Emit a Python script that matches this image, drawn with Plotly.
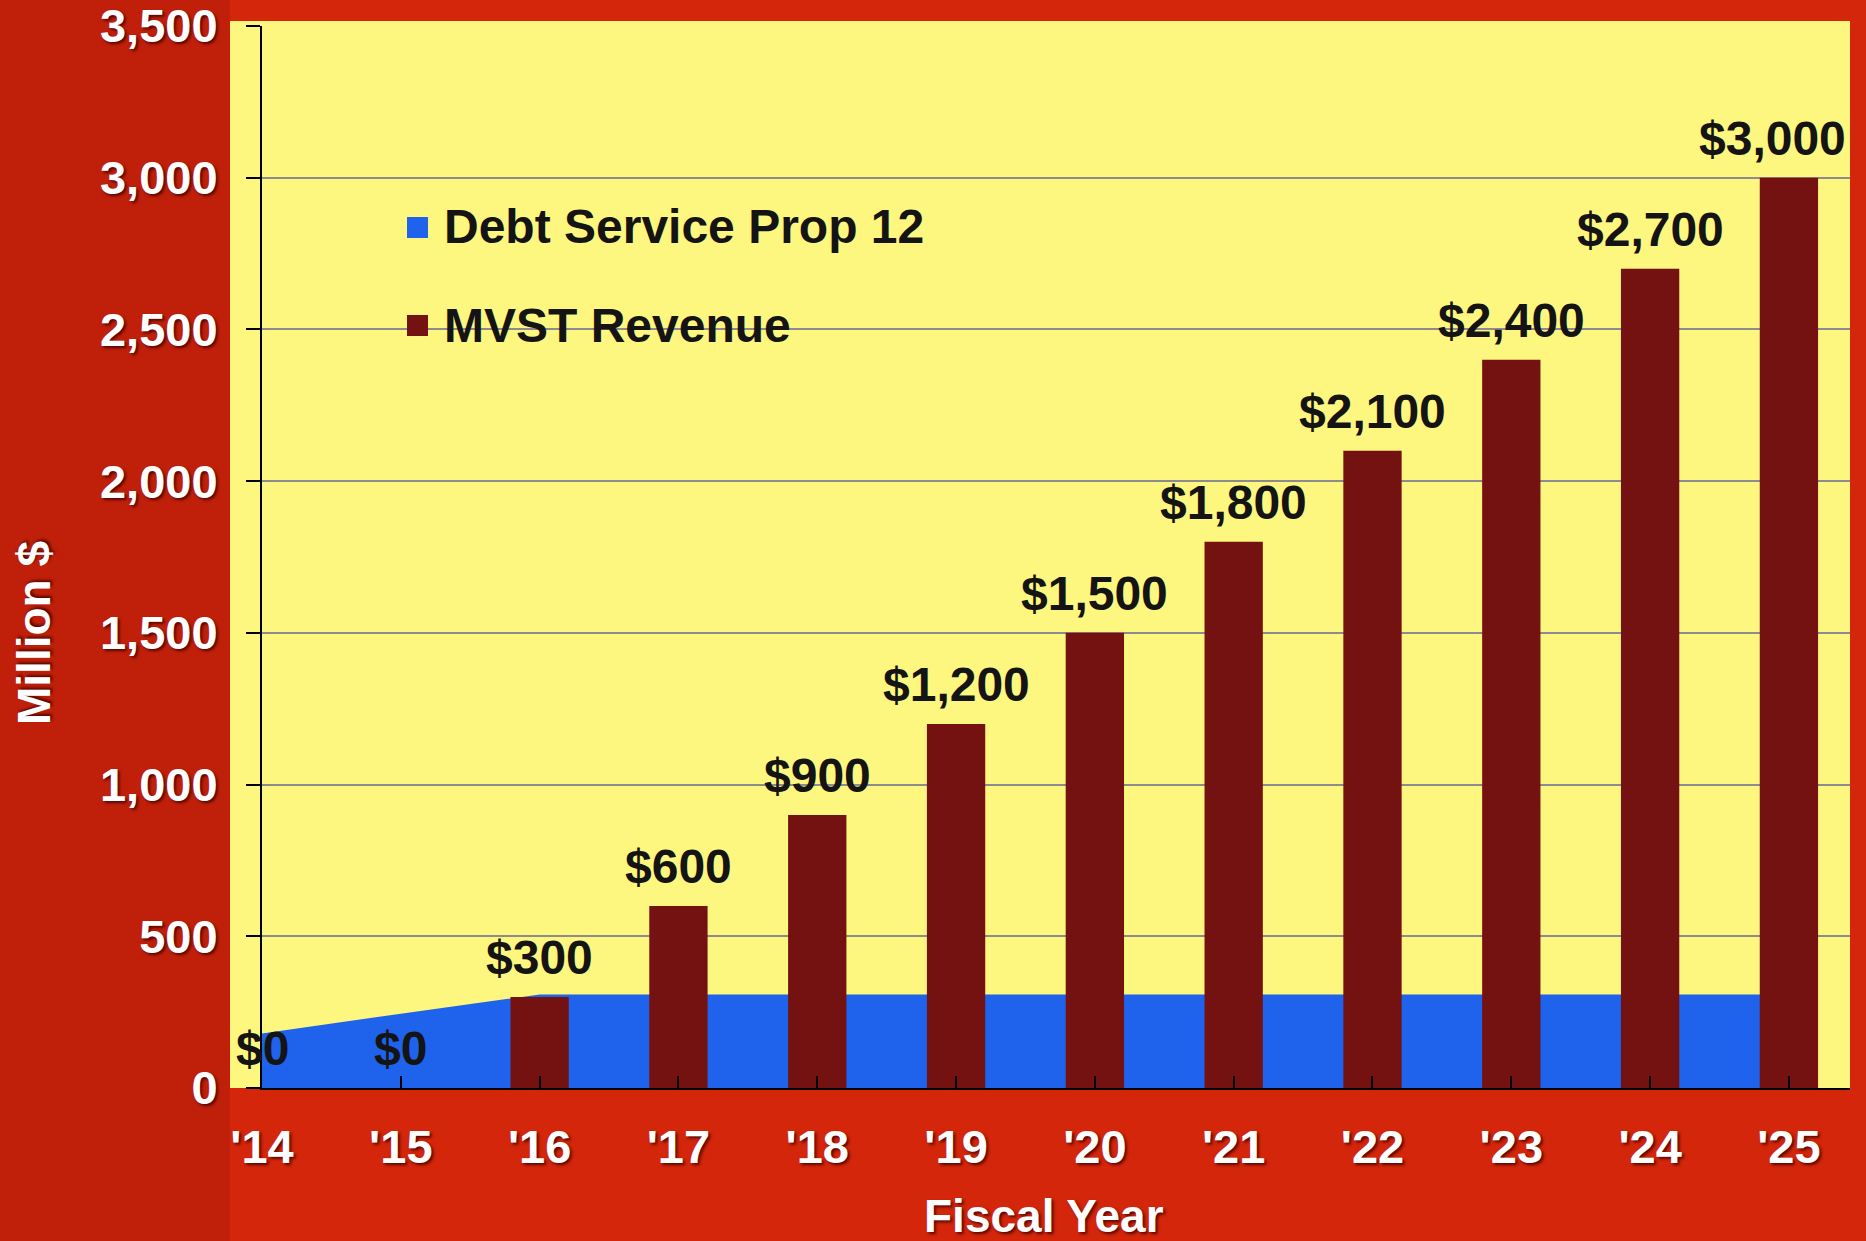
import plotly.graph_objects as go

# ---------------- data ----------------
years = ["'14", "'15", "'16", "'17", "'18", "'19", "'20", "'21", "'22", "'23", "'24", "'25"]
mvst_revenue = [0, 0, 300, 600, 900, 1200, 1500, 1800, 2100, 2400, 2700, 3000]
debt_service = [180, 245, 308, 308, 308, 308, 308, 308, 308, 308, 308, 308]
y_ticks = [0, 500, 1000, 1500, 2000, 2500, 3000, 3500]
series_names = ["Debt Service Prop 12", "MVST Revenue"]

# ---------------- style ----------------
W, H = 1866, 1241
L, R, T, B = 262, 16, 26, 153          # plot area margins (px)
PW, PH = W - L - R, H - T - B
RED = "#d4260a"
RED_DARK = "#c0200a"
YELLOW = "#fdf67f"
BLUE = "#1f62ec"
MAROON = "#741111"
GRID = "#8c8c90"
FONT = "Liberation Sans, Arial, Helvetica, sans-serif"
SHADOW = "2px 2px 3px rgba(70,0,0,0.85)"
X_RANGE = [0, 11.44]
Y_RANGE = [0, 3500]

def px_x(px):
    return (px - L) / PW

def px_y(py):
    return (H - B - py) / PH

xs = list(range(len(years)))

fig = go.Figure()

# area on the base axes
fig.add_trace(go.Scatter(
    x=xs, y=debt_service, name=series_names[0], mode="none",
    fill="tozeroy", fillcolor=BLUE, showlegend=False, hoverinfo="x+y",
    xaxis="x", yaxis="y",
))

# bars on an overlaying (identical) pair of axes so they sit above the area
fig.add_trace(go.Bar(
    x=xs, y=mvst_revenue, name=series_names[1], width=0.42,
    marker=dict(color=MAROON, line=dict(width=0)),
    showlegend=False, xaxis="x2", yaxis="y2",
))

shapes = [
    # darker left band of the background
    dict(type="rect", xref="paper", yref="paper", layer="below",
         x0=px_x(0), x1=px_x(230), y0=px_y(H), y1=px_y(0),
         fillcolor=RED_DARK, line=dict(width=0)),
    # yellow panel extension to the left of the y axis
    dict(type="rect", xref="paper", yref="paper", layer="below",
         x0=px_x(230), x1=1, y0=0, y1=px_y(21),
         fillcolor=YELLOW, line=dict(width=0)),
    # legend background (hides the grid line behind the legend)
    dict(type="rect", xref="paper", yref="paper", layer="between",
         x0=px_x(345), x1=px_x(978), y0=px_y(357), y1=px_y(190),
         fillcolor=YELLOW, line=dict(width=0)),
    # legend swatches
    dict(type="rect", xref="paper", yref="paper", layer="above",
         x0=px_x(407), x1=px_x(428), y0=px_y(238), y1=px_y(217),
         fillcolor=BLUE, line=dict(width=0)),
    dict(type="rect", xref="paper", yref="paper", layer="above",
         x0=px_x(407), x1=px_x(428), y0=px_y(336), y1=px_y(315),
         fillcolor=MAROON, line=dict(width=0)),
]

annotations = [
    dict(text=series_names[0], xref="paper", yref="paper", x=px_x(442), y=px_y(227),
         xanchor="left", yanchor="middle", showarrow=False,
         font=dict(family=FONT, size=48, color="#141414", weight="bold")),
    dict(text=series_names[1], xref="paper", yref="paper", x=px_x(442), y=px_y(325),
         xanchor="left", yanchor="middle", showarrow=False,
         font=dict(family=FONT, size=48, color="#141414", weight="bold")),
    dict(text="Million $", xref="paper", yref="paper", x=px_x(34), y=px_y(633),
         xanchor="center", yanchor="middle", textangle=-90, showarrow=False,
         font=dict(family=FONT, size=46, color="white", weight="bold", shadow=SHADOW)),
    dict(text="Fiscal Year", xref="paper", yref="paper", x=px_x(1044), y=px_y(1216),
         xanchor="center", yanchor="middle", showarrow=False,
         font=dict(family=FONT, size=46, color="white", weight="bold", shadow=SHADOW)),
]

# value labels above the bars, placed in data coordinates
n = len(xs)
for k, (xi, v) in enumerate(zip(xs, mvst_revenue)):
    annotations.append(dict(
        text=f"${v:,}", xref="x", yref="y", x=xi, y=v,
        xanchor="center", yanchor="bottom", yshift=11,
        xshift=-16 if k == n - 1 else 0,   # last label nudged inside the panel
        showarrow=False,
        font=dict(family=FONT, size=48, color="#141414", weight="bold"),
    ))

fig.update_layout(
    width=W, height=H,
    margin=dict(l=L, r=R, t=T, b=B, pad=0),
    paper_bgcolor=RED, plot_bgcolor=YELLOW,
    showlegend=False, bargap=0.58,
    shapes=shapes, annotations=annotations,
    font=dict(family=FONT),
    xaxis=dict(
        range=X_RANGE, tickvals=xs, ticktext=years, automargin=False,
        showgrid=False, zeroline=False,
        showline=True, linecolor="black", linewidth=2,
        ticks="inside", ticklen=12, tickwidth=2, tickcolor="black",
        ticklabelstandoff=17, ticklabeloverflow="allow",
        tickfont=dict(family=FONT, size=47, color="white", weight="bold", shadow=SHADOW),
    ),
    yaxis=dict(
        range=Y_RANGE, tickvals=y_ticks, tickformat=",", automargin=False,
        showgrid=True, gridcolor=GRID, gridwidth=1.5, zeroline=False,
        showline=True, linecolor="black", linewidth=2,
        ticks="outside", ticklen=14, tickwidth=2, tickcolor="black",
        ticklabelstandoff=19, ticklabeloverflow="allow",
        tickfont=dict(family=FONT, size=47, color="white", weight="bold", shadow=SHADOW),
    ),
    xaxis2=dict(overlaying="x", range=X_RANGE, visible=False, automargin=False),
    yaxis2=dict(overlaying="y", range=Y_RANGE, visible=False, automargin=False),
)

fig.write_html(
    "out.html",
    config={"displayModeBar": False},
    post_script="document.body.style.margin='0';document.body.style.overflow='hidden';",
)
